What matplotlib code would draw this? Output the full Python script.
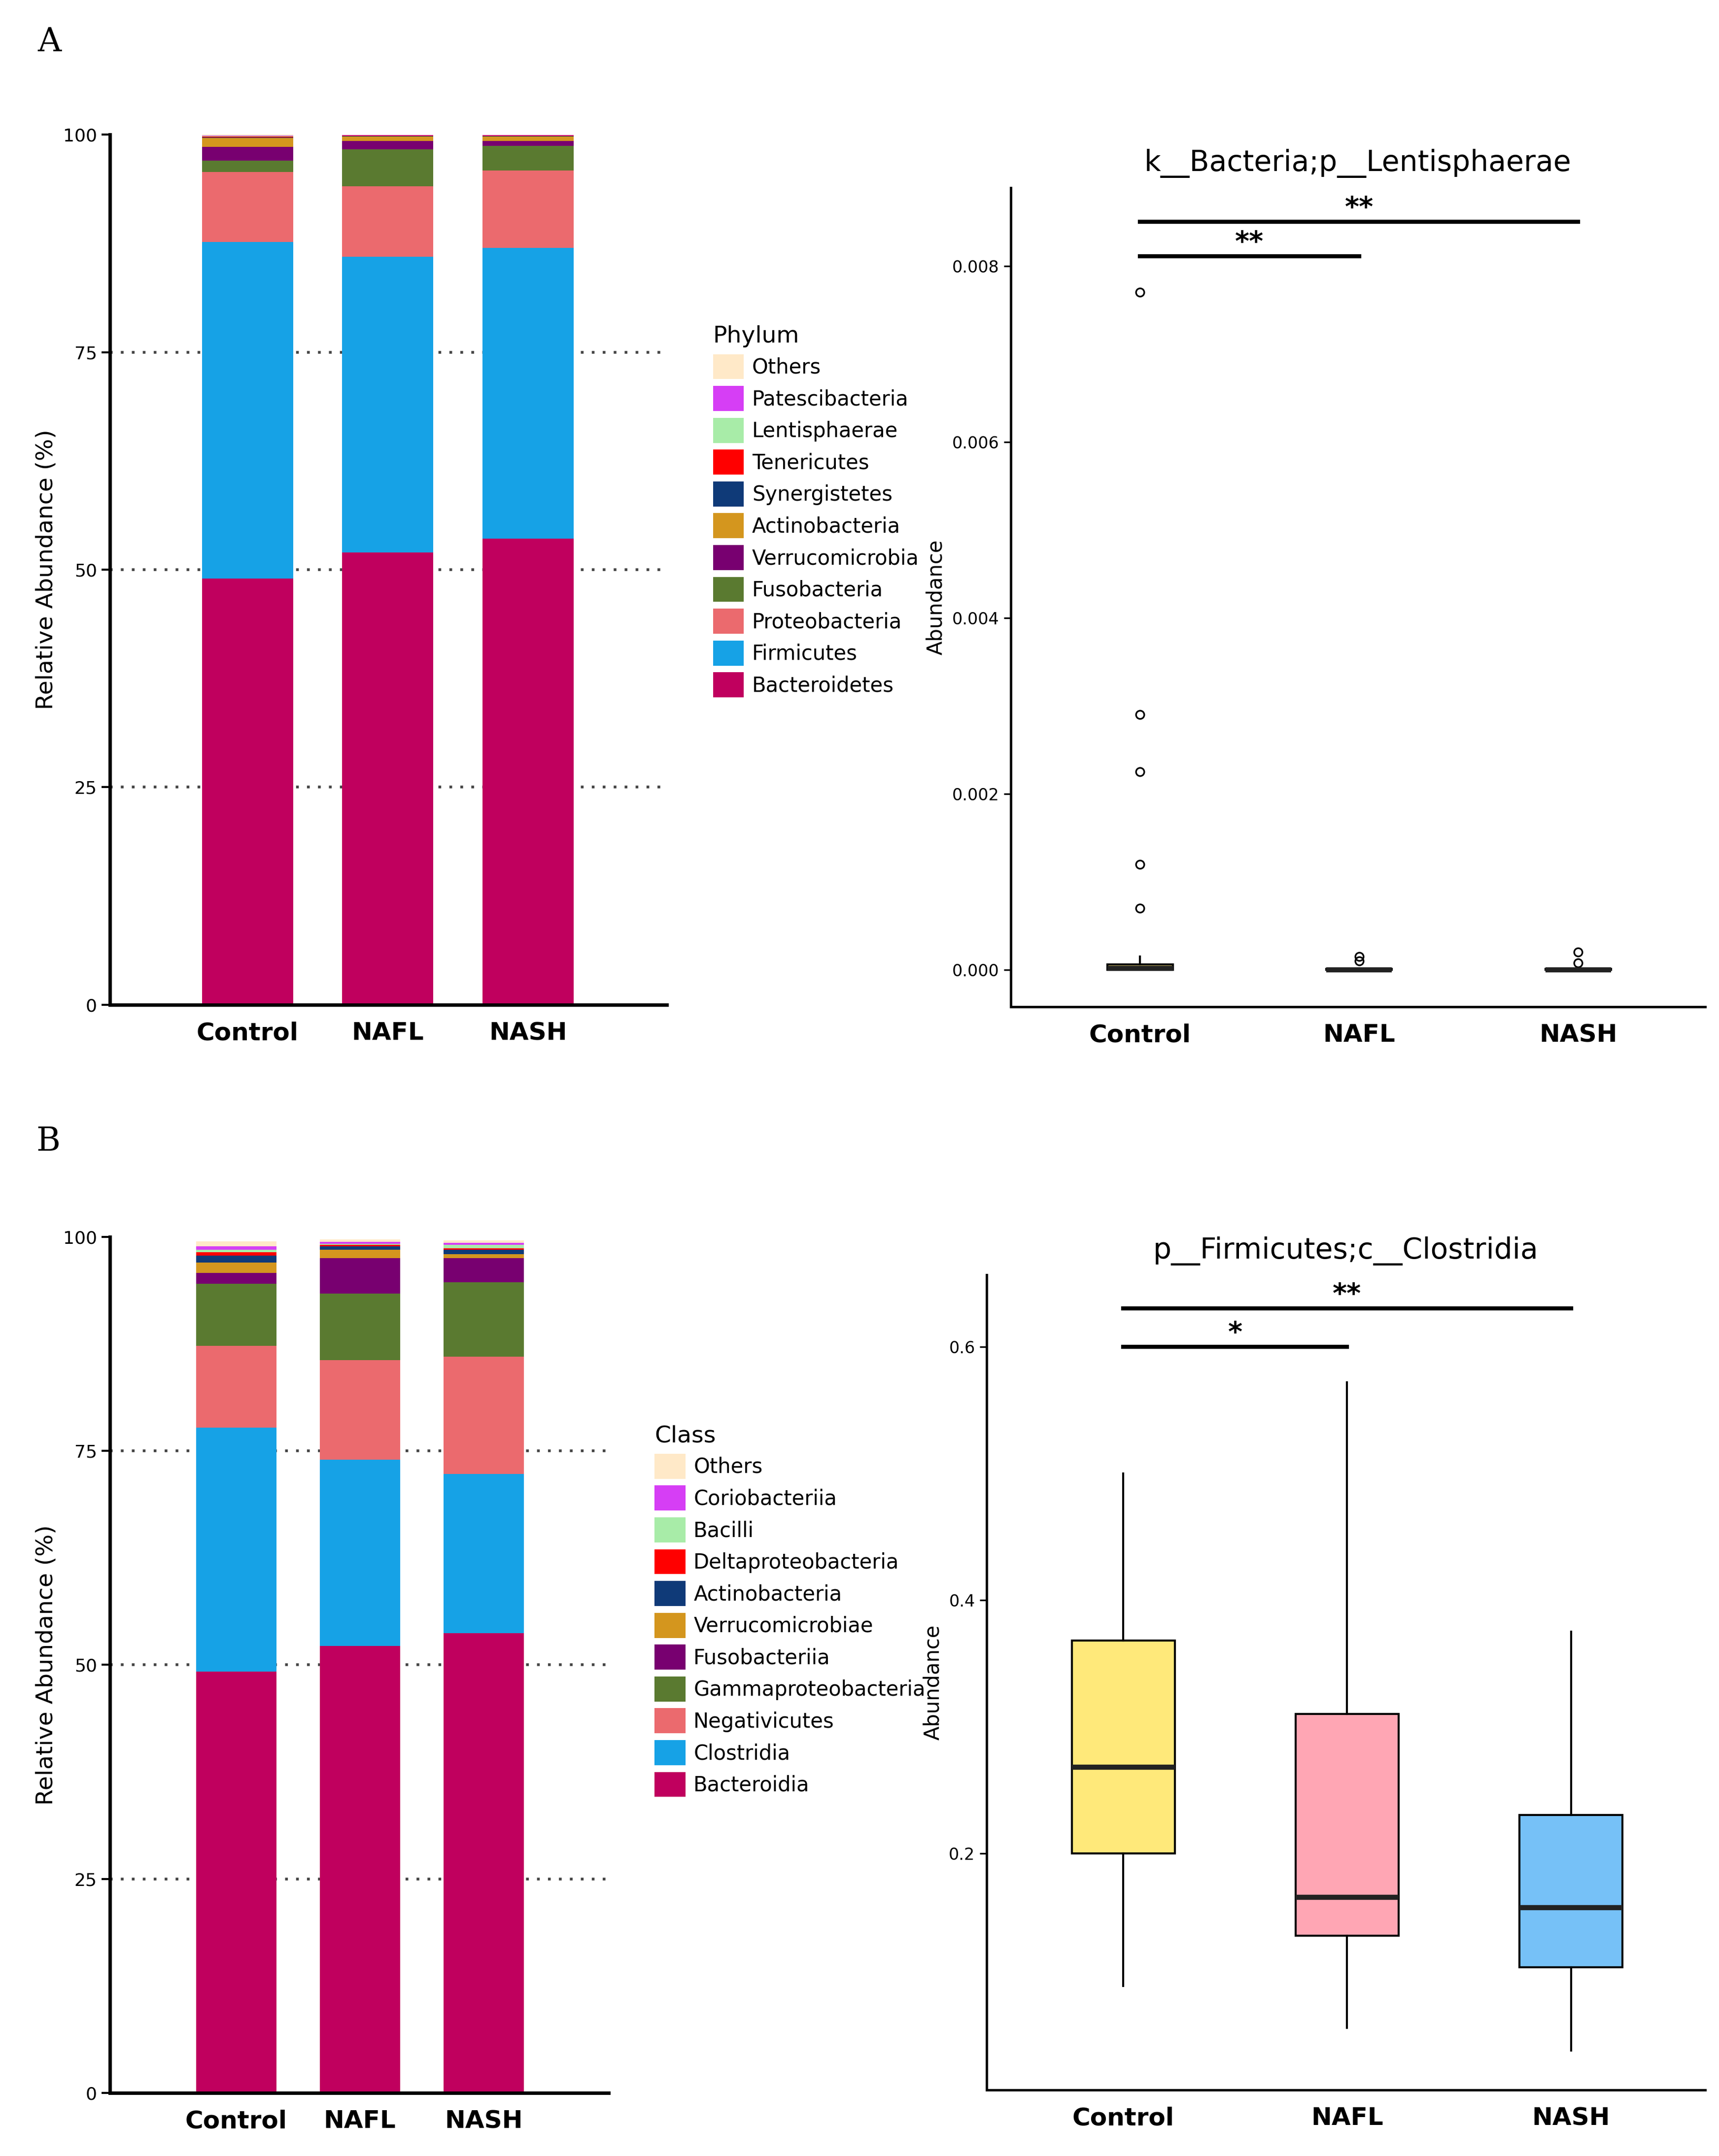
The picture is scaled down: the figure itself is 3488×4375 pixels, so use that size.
import matplotlib
matplotlib.use("Agg")
import matplotlib.pyplot as plt
from matplotlib.patches import Patch
import numpy as np

groups = ["Control", "NAFL", "NASH"]
phyla = ["Bacteroidetes","Firmicutes","Proteobacteria","Fusobacteria","Verrucomicrobia",
         "Actinobacteria","Synergistetes","Tenericutes","Lentisphaerae","Patescibacteria","Others"]
phylum_vals = {
    "Control": [49.0,38.7,8.0,1.3,1.6,1.0,0.1,0.1,0.05,0.05,0.1],
    "NAFL":    [52.0,34.0,8.1,4.2,1.0,0.5,0.05,0.05,0.02,0.02,0.06],
    "NASH":    [53.6,33.4,8.9,2.8,0.6,0.5,0.05,0.05,0.02,0.02,0.06],
}
classes = ["Bacteroidia","Clostridia","Negativicutes","Gammaproteobacteria","Fusobacteriia",
           "Verrucomicrobiae","Actinobacteria","Deltaproteobacteria","Bacilli","Coriobacteriia","Others"]
class_vals = {
    "Control": [49.2,28.5,9.6,7.2,1.3,1.2,0.8,0.4,0.3,0.4,0.6],
    "NAFL":    [52.2,21.8,11.6,7.8,4.1,1.0,0.4,0.2,0.1,0.2,0.3],
    "NASH":    [53.7,18.6,13.7,8.7,2.8,0.5,0.5,0.2,0.4,0.2,0.3],
}
colors = ["#C0005E","#16A2E6","#EB6A6E","#5A7A30","#780070","#D4961E",
          "#0F3A78","#FF0000","#A8ECA8","#D63EF5","#FFE9C8"]

# Lentisphaerae box stats
lent_stats = [
    dict(whislo=0.0, q1=0.0, med=0.00002, q3=0.00006, whishi=0.00015,
         fliers=[0.0077,0.0029,0.00225,0.0012,0.0007]),
    dict(whislo=0.0, q1=0.0, med=0.0, q3=0.00001, whishi=0.00002, fliers=[0.0001,0.00015]),
    dict(whislo=0.0, q1=0.0, med=0.0, q3=0.00001, whishi=0.00002, fliers=[0.00008,0.0002]),
]
clos_stats = [
    dict(whislo=0.095, q1=0.2, med=0.268, q3=0.368, whishi=0.5, fliers=[]),
    dict(whislo=0.062, q1=0.135, med=0.165, q3=0.31, whishi=0.572, fliers=[]),
    dict(whislo=0.044, q1=0.11, med=0.157, q3=0.23, whishi=0.375, fliers=[]),
]
box_colors = ["#FFE97A","#FFA6B4","#76C1F7"]

fig = plt.figure(figsize=(17.44, 21.875), dpi=200)
narrow = ['Liberation Sans Narrow', 'DejaVu Sans']

def stacked(rect, data, names, title, xl, leg_y):
    ax = fig.add_axes(rect)
    x = np.arange(3)
    for yv in (25, 50, 75):
        ax.axhline(yv, color="#444444", ls=(0, (1, 3)), lw=2, zorder=0)
    for i, g in enumerate(groups):
        bottom = 0
        for v, c in zip(data[g], colors):
            ax.bar(i, v, 0.65, bottom=bottom, color=c, zorder=2, linewidth=0)
            bottom += v
    ax.set_xlim(*xl)
    ax.set_ylim(0, 100)
    ax.set_yticks([0, 25, 50, 75, 100])
    ax.set_xticks(x)
    ax.set_xticklabels(groups, fontsize=18, fontweight="bold")
    ax.tick_params(axis="y", labelsize=13, length=6, width=1.5)
    ax.tick_params(axis="x", length=0, pad=12)
    for s in ("top", "right"):
        ax.spines[s].set_visible(False)
    for s in ("left", "bottom"):
        ax.spines[s].set_linewidth(2.5)
    ax.set_ylabel("Relative Abundance (%)", fontsize=17)
    handles = [Patch(facecolor=c, label=n) for n, c in zip(names, colors)][::-1]
    leg = fig.legend(handles=handles, title=title, loc="upper left",
                     bbox_to_anchor=(leg_y[0], leg_y[1]), frameon=False, fontsize=15,
                     title_fontsize=17, handlelength=1.5, handleheight=1.5,
                     labelspacing=0.33, handletextpad=0.4, borderaxespad=0)
    leg._legend_box.align = "left"
    return ax

stacked([0.064, 0.534, 0.324, 0.4035], phylum_vals, phyla, "Phylum", (-0.98, 2.99), (0.410, 0.853))
stacked([0.064, 0.0293, 0.290, 0.397], class_vals, classes, "Class", (-1.02, 3.01), (0.376, 0.343))

def boxes(rect, stats, ylim, yticks, ticklabels, title, xl, width, fcols, lw, sig):
    ax = fig.add_axes(rect)
    bp = ax.bxp(stats, positions=[0, 1, 2], widths=width, patch_artist=True,
                showfliers=True,
                flierprops=dict(marker="o", markerfacecolor="none", markeredgecolor="black",
                                markersize=6, markeredgewidth=1.2),
                medianprops=dict(color="#222222", linewidth=lw * 2.5),
                whiskerprops=dict(linewidth=lw), capprops=dict(linewidth=0),
                boxprops=dict(linewidth=lw))
    for p, c in zip(bp["boxes"], fcols):
        p.set_facecolor(c)
    ax.set_xlim(*xl)
    ax.set_ylim(*ylim)
    ax.set_yticks(yticks)
    ax.set_yticklabels(ticklabels, fontsize=12, family=narrow)
    ax.set_xticks([0, 1, 2])
    ax.set_xticklabels(groups, fontsize=18, fontweight="bold")
    ax.tick_params(axis="x", length=0, pad=12)
    ax.tick_params(axis="y", length=5, width=1.2)
    for s in ("top", "right"):
        ax.spines[s].set_visible(False)
    for s in ("left", "bottom"):
        ax.spines[s].set_linewidth(1.8)
    ax.set_ylabel("Abundance", fontsize=15)
    ax.set_title(title, fontsize=21, family=narrow, pad=12)
    for x0, x1, y, txt in sig:
        ax.plot([x0, x1], [y, y], color="black", lw=3)
        ax.text((x0 + x1) / 2, y, txt, ha="center", va="bottom", fontsize=20, fontweight="bold")
    return ax

boxes([0.588, 0.533, 0.404, 0.38], lent_stats, (-0.00042, 0.00889),
      [0, 0.002, 0.004, 0.006, 0.008], ["0.000", "0.002", "0.004", "0.006", "0.008"],
      "k__Bacteria;p__Lentisphaerae", (-0.59, 2.58), 0.3,
      ["#FFE97A", "#FFFFFF", "#FFFFFF"], 1.5,
      [(0, 1, 0.00811, "**"), (0, 2, 0.0085, "**")])
boxes([0.574, 0.0306, 0.418, 0.378], clos_stats, (0.013, 0.6565),
      [0.2, 0.4, 0.6], ["0.2", "0.4", "0.6"],
      "p__Firmicutes;c__Clostridia", (-0.61, 2.6), 0.46, box_colors, 1.5,
      [(0, 1, 0.6, "*"), (0, 2, 0.63, "**")])

fig.text(0.022, 0.988, "A", fontsize=24, family="DejaVu Serif", va="top")
fig.text(0.021, 0.478, "B", fontsize=24, family="DejaVu Serif", va="top")

fig.savefig("out.png", dpi=200, facecolor="white")
